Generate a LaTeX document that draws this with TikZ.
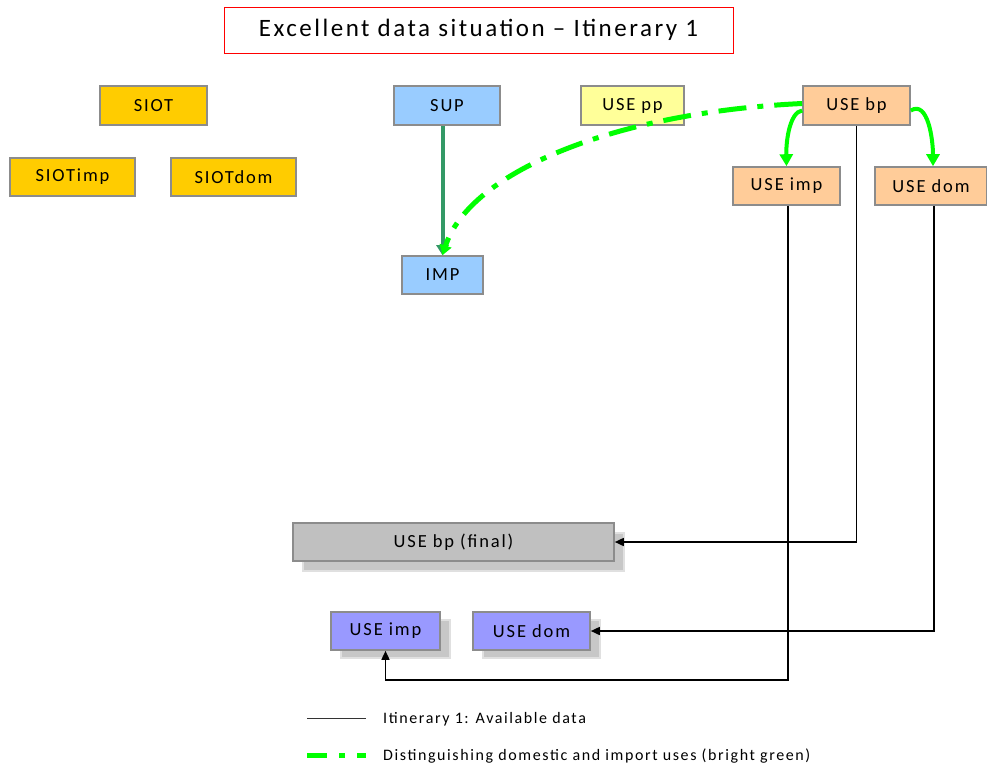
\documentclass[tikz,border=0pt]{standalone}
\usepackage{fontspec}
\setmainfont{Carlito}[LetterSpace=10]
\usetikzlibrary{arrows.meta}
\definecolor{siotfill}{HTML}{FFCC00}
\definecolor{supfill}{HTML}{99CCFF}
\definecolor{ppfill}{HTML}{FFFF99}
\definecolor{bpfill}{HTML}{FFCC99}
\definecolor{finalfill}{HTML}{C0C0C0}
\definecolor{purplefill}{HTML}{9999FF}
\definecolor{boxline}{HTML}{8C8C8C}
\definecolor{darkgreen}{HTML}{339966}
\definecolor{brightgreen}{HTML}{00FF00}
\tikzset{
  box/.style={draw=boxline, line width=1.6pt, inner sep=0pt, font=\fontsize{18.5}{18.5}\selectfont, text=black},
  shadowbox/.style={draw=black!12, line width=1.2pt, fill=black!22, inner sep=0pt},
  blackline/.style={draw=black, line width=1.6pt},
  blackarrow/.style={blackline, -{Triangle[length=9pt,width=8pt]}},
  greenarrow/.style={draw=brightgreen, line width=4pt, -{Triangle[length=12pt,width=13pt]}},
  greendash/.style={draw=brightgreen, line width=5pt, dash pattern=on 28pt off 11pt on 6pt off 11pt},
  legendtext/.style={anchor=west, inner sep=0pt, font=\fontsize{16}{16}\selectfont}
}
\begin{document}
\begin{tikzpicture}[x=1pt,y=-1pt]
\useasboundingbox (0,0) rectangle (987,771);

% title
\node[draw=red, line width=1pt, minimum width=509pt, minimum height=46pt, inner sep=0pt,
      font=\fontsize{25}{25}\selectfont] (title) at (478.5,30) {Excellent data situation -- Itinerary 1};

% input tables
\node[box, fill=siotfill, minimum width=107pt, minimum height=39pt] (siot) at (153.5,105.5) {SIOT};
\node[box, fill=siotfill, minimum width=125pt, minimum height=38pt] (siotimp) at (72.5,177) {SIOTimp};
\node[box, fill=siotfill, minimum width=125pt, minimum height=38pt] (siotdom) at (233.5,177) {SIOTdom};

\node[box, fill=supfill, minimum width=106pt, minimum height=39pt] (sup) at (447,105.5) {SUP};
\node[box, fill=supfill, minimum width=81pt, minimum height=38pt] (imp) at (442.5,275) {IMP};
\node[box, fill=ppfill, minimum width=103pt, minimum height=39pt] (usepp) at (632.5,105.5) {USE pp};

\node[box, fill=bpfill, minimum width=107pt, minimum height=39pt] (usebp) at (856.5,105.5) {USE bp};
\node[box, fill=bpfill, minimum width=107pt, minimum height=38pt] (useimp) at (786.5,186) {USE imp};
\node[box, fill=bpfill, minimum width=112pt, minimum height=38pt] (usedom) at (931,186) {USE dom};

% result tables with shadows
\node[shadowbox, minimum width=321pt, minimum height=38pt] (finalsh) at (463.5,552) {};
\node[box, fill=finalfill, minimum width=321pt, minimum height=38pt] (final) at (453.5,542) {USE bp (final)};

\node[shadowbox, minimum width=109pt, minimum height=38pt] (rimpsh) at (395.5,639) {};
\node[box, fill=purplefill, minimum width=109pt, minimum height=38pt] (rimp) at (385.5,631) {USE imp};

\node[shadowbox, minimum width=117pt, minimum height=38pt] (rdomsh) at (541.5,639) {};
\node[box, fill=purplefill, minimum width=117pt, minimum height=38pt] (rdom) at (531.5,631) {USE dom};

% supply to imports
\draw[draw=darkgreen, line width=4pt, -{Triangle[length=10pt,width=12pt]}] (imp.north |- sup.south) -- (imp.north);

% distinguishing domestic and import uses
\draw[greendash, -{Triangle[length=10pt,width=12pt]}]
  ([yshift=2pt]usebp.west) .. controls (620,112) and (470,170) .. (imp.north);
\draw[greenarrow] ([yshift=-5pt]usebp.west) .. controls (790,112) and (786,140) .. (useimp.north);
\draw[greenarrow] ([yshift=-5pt]usebp.east) .. controls (928,100) and (933,140) .. ([xshift=2pt]usedom.north);

% available data
\draw[blackarrow] (usebp.south) |- (final.east);
\draw[blackarrow] ([xshift=3pt]usedom.south) |- (rdom.east);
\coordinate (corner) at (788,680);
\draw[blackarrow] (corner |- useimp.south) -- (corner) -| (rimp.south);

% legend
\coordinate (l1a) at (307,718);
\coordinate (l1b) at (366,718);
\coordinate (l2a) at (307,755);
\coordinate (l2b) at (366,755);
\draw[draw=black!80, line width=1pt] (l1a) -- (l1b);
\node[legendtext] (leg1) at (383,719) {Itinerary 1: Available data};
\draw[greendash, dash pattern=on 20pt off 12pt on 6pt off 12pt] (l2a) -- (l2b);
\node[legendtext] (leg2) at (383,756) {Distinguishing domestic and import uses (bright green)};
\end{tikzpicture}
\end{document}
